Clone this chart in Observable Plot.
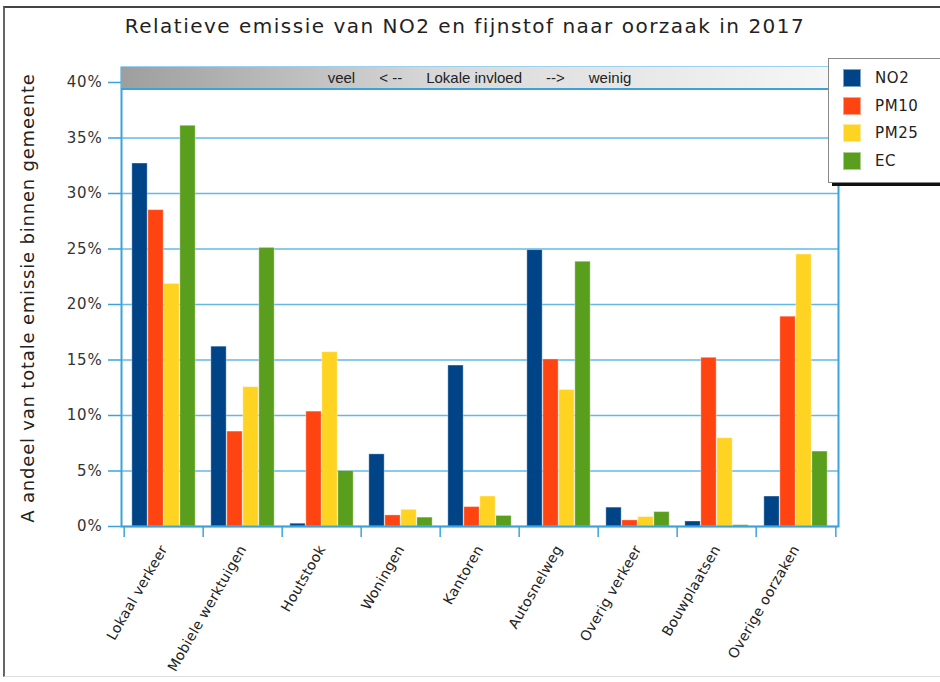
<!DOCTYPE html>
<html>
<head>
<meta charset="utf-8">
<script src="https://cdn.jsdelivr.net/npm/d3@7"></script>
<script src="https://cdn.jsdelivr.net/npm/@observablehq/plot@0.6"></script>
<style>
  html, body { margin: 0; padding: 0; background: #fff; }
  #wrap { position: relative; width: 940px; height: 682px; overflow: hidden; font-family: "DejaVu Sans", sans-serif; }
  #outer { position: absolute; left: 3px; top: 6px; width: 945px; height: 668px; border-left: 2px solid #666; border-top: 2px solid #444; border-bottom: 1px solid #ddd; }
  #title { position: absolute; left: 0; width: 930px; top: 16px; line-height: 20px; font-size: 20px; letter-spacing: 1.5px; text-align: center; color: #222; }
  #ylabel { position: absolute; left: -212px; width: 480px; top: 288px; line-height: 20px; font-size: 18px; letter-spacing: 0.8px; text-align: center; color: #222; transform: rotate(-90deg); transform-origin: 50% 50%; white-space: nowrap; }
  #banner { position: absolute; left: 121px; top: 67px; width: 717px; height: 23px; background: linear-gradient(to right, #9e9e9e, #d9d9d9 45%, #f7f7f7); display: flex; justify-content: center; align-items: center; gap: 24px; font-family: "Liberation Sans", Arial, sans-serif; font-size: 15px; color: #222; border-bottom: 2px solid #3ba3dc; box-sizing: border-box; }
  #legend { position: absolute; left: 828px; top: 58px; width: 130px; height: 123px; background: #fff; border: 1px solid #888; box-shadow: 4px 3px 0 #111; }
  .item { position: absolute; left: 14px; height: 18px; display: flex; align-items: center; font-size: 15px; letter-spacing: 0.6px; color: #222; }
  .sw { width: 18px; height: 18px; margin-right: 14px; box-sizing: border-box; border: 1px solid rgba(255,255,255,0.5); }
  #chart { position: absolute; left: 0; top: 0; }
  #chart svg g[aria-label="y-axis tick label"] text { letter-spacing: 0.8px; }
  #chart svg g[aria-label="x-axis tick label"] text { letter-spacing: 0.3px; }
</style>
</head>
<body>
<div id="wrap">
  <div id="outer"></div>
  <div id="chart"></div>
  <div id="title"></div>
  <div id="ylabel"></div>
  <div id="banner"></div>
  <div id="legend"></div>
</div>
<script>
const titleText = "Relatieve emissie van NO2 en fijnstof naar oorzaak in 2017";
const yLabelText = "A andeel van totale emissie binnen gemeente";
const bannerParts = ["veel", "< --", "Lokale invloed", "-->", "weinig"];
const categories = ["Lokaal verkeer", "Mobiele werktuigen", "Houtstook", "Woningen", "Kantoren", "Autosnelweg", "Overig verkeer", "Bouwplaatsen", "Overige oorzaken"];
const series = ["NO2", "PM10", "PM25", "EC"];
const no2  = [32.7, 16.2, 0.25, 6.5, 14.5, 24.9, 1.7, 0.45, 2.7];
const pm10 = [28.5, 8.55, 10.35, 1.0, 1.75, 15.05, 0.55, 15.2, 18.9];
const pm25 = [21.85, 12.55, 15.7, 1.5, 2.7, 12.3, 0.85, 7.95, 24.5];
const ec   = [36.1, 25.1, 5.0, 0.8, 0.95, 23.85, 1.3, 0.12, 6.75];
const colors = ["#004488", "#ff4411", "#ffd322", "#5a9e1d"];
const yTicks = [0, 5, 10, 15, 20, 25, 30, 35, 40];

const values = [no2, pm10, pm25, ec];
const rows = [];
series.forEach((s, k) => categories.forEach((c, i) => rows.push({cat: c, series: s, value: values[k][i]})));

const W = 940, H = 682, mL = 121, mR = 102, mT = 67, mB = 156;
const bw = (W - mL - mR) / categories.length;
const barW = 16;
const pad = (bw - series.length * barW) / 2;
const axisBlue = "#3ba3dc";

document.getElementById("title").textContent = titleText;
document.getElementById("ylabel").textContent = yLabelText;
const banner = document.getElementById("banner");
bannerParts.forEach(t => { const s = document.createElement("span"); s.textContent = t; banner.appendChild(s); });
const legend = document.getElementById("legend");
series.forEach((s, k) => {
  const it = document.createElement("div");
  it.className = "item";
  it.style.top = (10 + k * 27.7) + "px";
  const sw = document.createElement("div");
  sw.className = "sw";
  sw.style.background = colors[k];
  const tx = document.createElement("span");
  tx.textContent = s;
  it.appendChild(sw); it.appendChild(tx);
  legend.appendChild(it);
});

const bars = series.map((s, k) => Plot.barY(rows.filter(r => r.series === s), {
  x: "cat", y: "value", fill: colors[k],
  stroke: "white", strokeOpacity: 0.35, strokeWidth: 1,
  insetLeft: pad + k * barW, insetRight: pad + (series.length - 1 - k) * barW
}));

const chart = Plot.plot({
  width: W, height: H,
  marginLeft: mL, marginRight: mR, marginTop: mT, marginBottom: mB,
  x: {domain: categories, padding: 0, axis: null, label: null},
  y: {domain: [0, 41.35], axis: null, label: null},
  style: {fontFamily: "DejaVu Sans, sans-serif", fontSize: "15px", background: "transparent", overflow: "visible"},
  marks: [
    Plot.gridY(yTicks, {stroke: "#62b8e8", strokeOpacity: 1, strokeWidth: 1.5}),
    ...bars,
    Plot.axisY(yTicks, {tickSize: 13, tickFormat: () => "", color: axisBlue, strokeWidth: 1.5, label: null}),
    Plot.axisY(yTicks, {tickSize: 0, tickPadding: 19, tickFormat: d => d + "%", color: "#333", fontSize: 15, label: null}),
    Plot.axisX({tickSize: 11, dx: -bw / 2, tickFormat: () => "", color: axisBlue, strokeWidth: 1.5, label: null}),
    Plot.axisX([categories[categories.length - 1]], {tickSize: 11, dx: bw / 2, tickFormat: () => "", color: axisBlue, strokeWidth: 1.5, label: null}),
    Plot.axisX({tickSize: 0, tickPadding: 20, tickRotate: -60, color: "#222", fontSize: 14, label: null}),
    Plot.frame({stroke: axisBlue, strokeWidth: 2})
  ]
});
document.getElementById("chart").appendChild(chart);
</script>
</body>
</html>
